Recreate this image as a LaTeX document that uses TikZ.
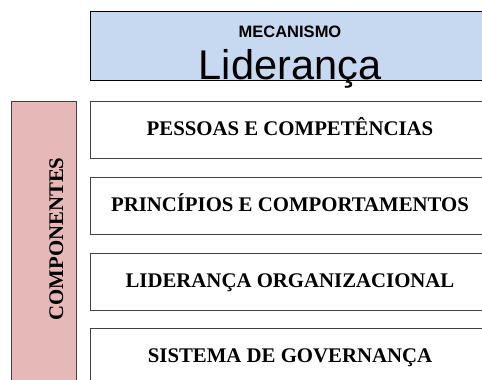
\documentclass[tikz,border=0pt]{standalone}
\usepackage{fontspec}
\setmainfont{Liberation Serif}
\newfontfamily\arialf{Liberation Sans}
\definecolor{topblue}{HTML}{C6D9F0}
\definecolor{pinkfill}{HTML}{E6B9B8}
\definecolor{edgegray}{HTML}{404040}
\tikzset{
  compbox/.style={draw=edgegray, line width=0.8pt, fill=white, rectangle, inner sep=0pt,
    minimum width=430pt, minimum height=57pt},
  comptext/.style={font=\fontsize{20.8}{24}\selectfont\bfseries, anchor=base, inner sep=0pt},
}
\begin{document}
\begin{tikzpicture}[x=1pt,y=1pt]
\useasboundingbox (0,0) rectangle (482,380);
\begin{scope}
\clip (0,0) rectangle (482,380);
% top box
\node[draw=black, line width=0.8pt, fill=topblue, rectangle, inner sep=0pt, minimum width=430pt, minimum height=69pt, anchor=south west] (top) at (90,299) {};
% left pink box
\node[draw=edgegray, line width=0.8pt, fill=pinkfill, rectangle, inner sep=0pt, minimum width=65pt, minimum height=320pt, anchor=north west] (comp) at (11,279) {};
% component boxes
\node[compbox, anchor=north west] (b1) at (90,279) {};
\node[compbox, anchor=north west] (b2) at (90,203) {};
\node[compbox, anchor=north west] (b3) at (90,127) {};
\node[compbox, minimum height=80pt, anchor=north west] (b4) at (90,52) {};
\end{scope}
\node[font=\arialf\fontsize{16.5}{18}\selectfont\bfseries, anchor=base, inner sep=0pt] (mec) at (290,342) {MECANISMO};
\node[font=\arialf\fontsize{41.5}{44}\selectfont, anchor=base, inner sep=0pt] (lid) at (290,300) {Liderança};
\node[rotate=90, comptext] (complbl) at (63,141) {COMPONENTES};
\node[comptext] (t1) at (290,244) {PESSOAS E COMPETÊNCIAS};
\node[comptext] (t2) at (290,168) {PRINCÍPIOS E COMPORTAMENTOS};
\node[comptext] (t3) at (290,92) {LIDERANÇA ORGANIZACIONAL};
\node[comptext] (t4) at (290,17) {SISTEMA DE GOVERNANÇA};
\end{tikzpicture}
\end{document}
